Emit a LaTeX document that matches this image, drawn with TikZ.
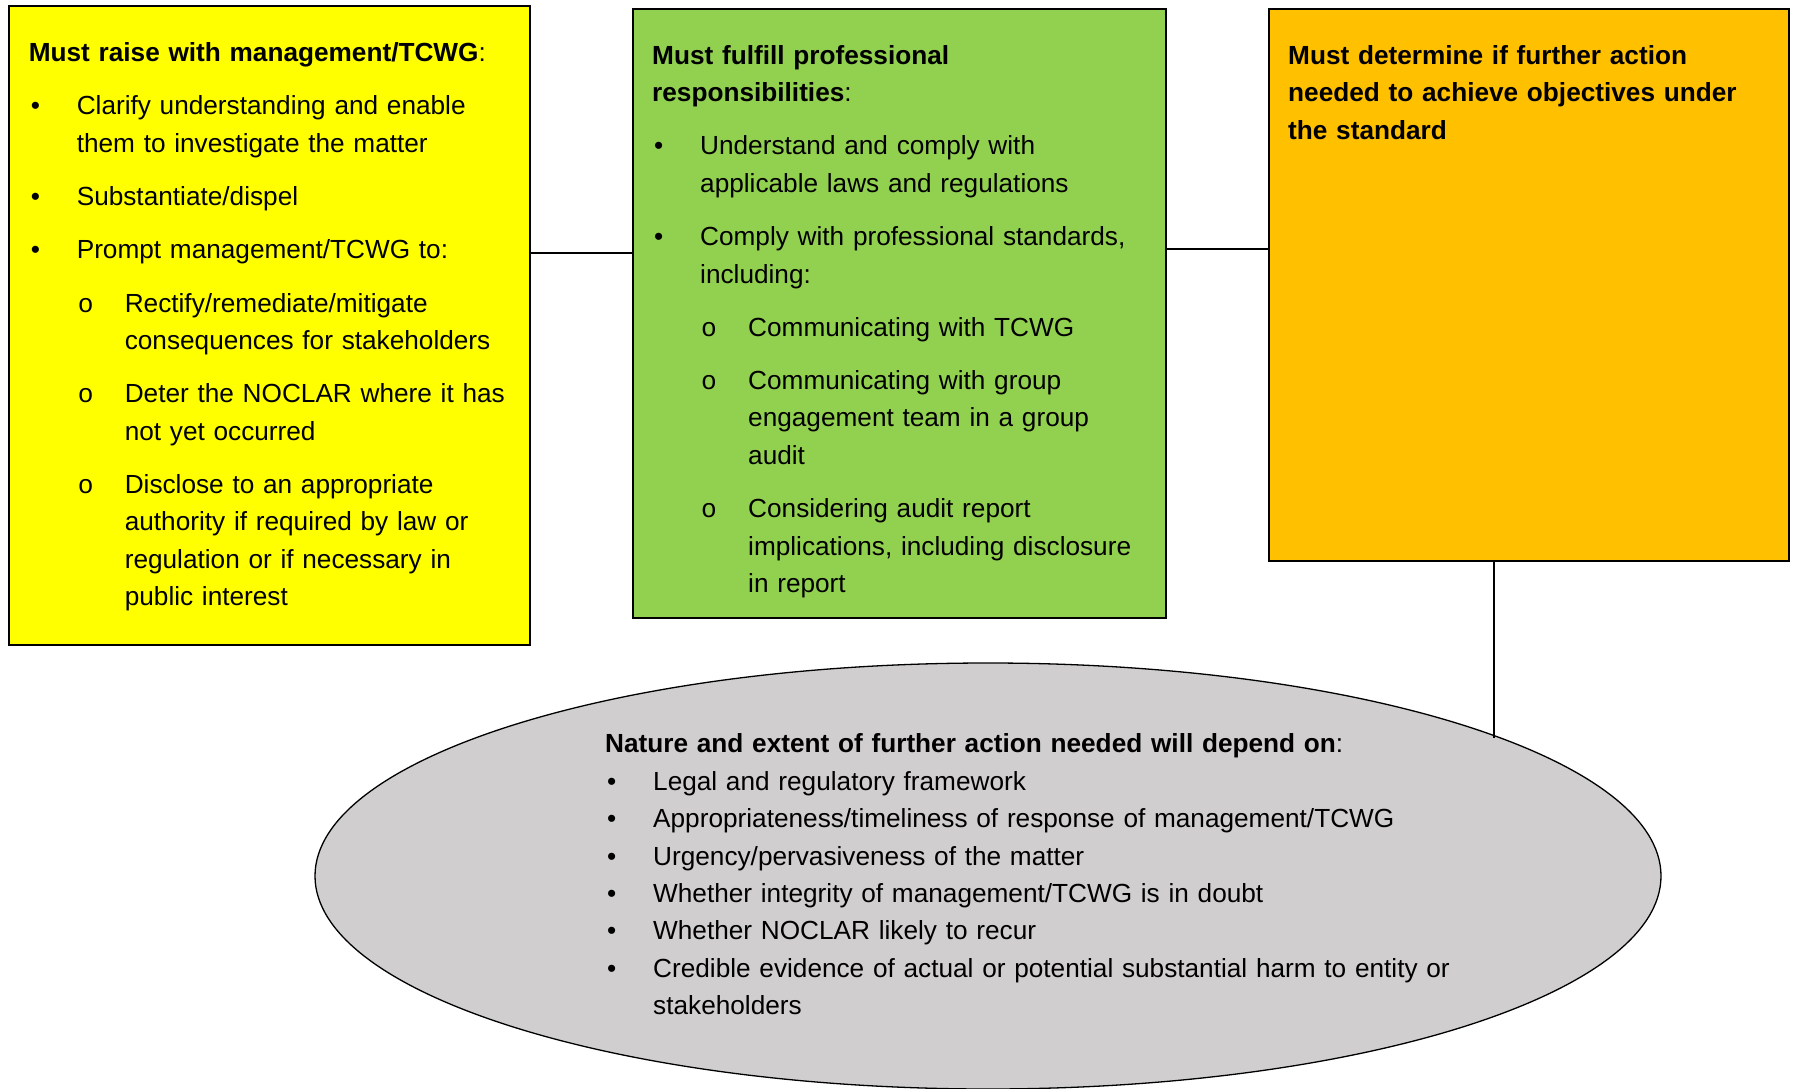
\documentclass[tikz,border=0pt]{standalone}
\usepackage{fontspec}
\setmainfont{Liberation Sans}
\newfontfamily\monof{Liberation Mono}
\usetikzlibrary{shapes.geometric,calc}
\definecolor{yelc}{HTML}{FFFF00}
\definecolor{grnc}{HTML}{92D050}
\definecolor{orgc}{HTML}{FFC000}
\definecolor{gryc}{HTML}{D0CECE}
\newcommand\firststrut{\rule{0pt}{30pt}}
\newcommand\ttlline[1]{\noindent\firststrut #1\par}
\newcommand\bitem[1]{\par\hangindent=48pt\hangafter=0\noindent\llap{\makebox[48pt][l]{\hspace{2pt}\textbullet}}#1\par}
\newcommand\sitem[1]{\par\hangindent=96pt\hangafter=0\noindent\llap{\makebox[48pt][l]{\hspace{1pt}{\monof o}}}#1\par}
\tikzset{
  boxshape/.style={draw=black, line width=1.6pt, rectangle, inner sep=0pt, anchor=north west},
  txt/.style={anchor=north west, inner sep=0pt, text width=#1, font=\fontsize{26.2}{37.5}\selectfont},
  conn/.style={draw=black, line width=1.4pt}
}
\begin{document}
\begin{tikzpicture}[x=1pt,y=-1pt]
\useasboundingbox (0,0) rectangle (1794,1089);
% boxes
\node[boxshape, fill=yelc, minimum width=521pt, minimum height=639pt] (yb) at (8,5) {};
\node[boxshape, fill=grnc, minimum width=533pt, minimum height=609pt] (gb) at (632,8) {};
\node[boxshape, fill=orgc, minimum width=520pt, minimum height=552pt] (ob) at (1268,8) {};
\node[ellipse, draw=black, fill=gryc, line width=1.3pt, minimum width=1346pt, minimum height=426pt, inner sep=0pt] (el) at (988,876) {};
% connectors
\coordinate (c1) at (0,253);
\coordinate (c2) at (0,249);
\coordinate (c3) at (1494,0);
\draw[conn] (yb.east |- c1) -- (gb.west |- c1);
\draw[conn] (gb.east |- c2) -- (ob.west |- c2);
\draw[conn] (ob.south -| c3) -- (c3 |- el.15.5);
% texts
\node[txt=500pt] (yt) at (28.6,31.6) {\setlength{\parskip}{15.7pt}%
\ttlline{\textbf{Must raise with management/TCWG}:}
\bitem{Clarify understanding and enable\newline them to investigate the matter}
\bitem{Substantiate/dispel}
\bitem{Prompt management/TCWG to:}
\sitem{Rectify/remediate/mitigate\newline consequences for stakeholders}
\sitem{Deter the NOCLAR where it has\newline not yet occurred}
\sitem{Disclose to an appropriate\newline authority if required by law or\newline regulation or if necessary in\newline public interest}};
\node[txt=500pt] (gt) at (652,34) {\setlength{\parskip}{15.7pt}%
\ttlline{\textbf{Must fulfill professional\newline responsibilities}:}
\bitem{Understand and comply with\newline applicable laws and regulations}
\bitem{Comply with professional standards,\newline including:}
\sitem{Communicating with TCWG}
\sitem{Communicating with group\newline engagement team in a group\newline audit}
\sitem{Considering audit report\newline implications, including disclosure\newline in report}};
\node[txt=490pt] (ot) at (1288,34) {\setlength{\parskip}{15.7pt}%
\ttlline{\textbf{Must determine if further action\newline needed to achieve objectives under\newline the standard}}};
\node[txt=880pt] (et) at (605,722.7) {\setlength{\parskip}{0pt}\fontsize{26.2}{37.4}\selectfont
\ttlline{\textbf{Nature and extent of further action needed will depend on}:}
\bitem{Legal and regulatory framework}
\bitem{Appropriateness/timeliness of response of management/TCWG}
\bitem{Urgency/pervasiveness of the matter}
\bitem{Whether integrity of management/TCWG is in doubt}
\bitem{Whether NOCLAR likely to recur}
\bitem{Credible evidence of actual or potential substantial harm to entity or\newline stakeholders}};
\end{tikzpicture}
\end{document}
